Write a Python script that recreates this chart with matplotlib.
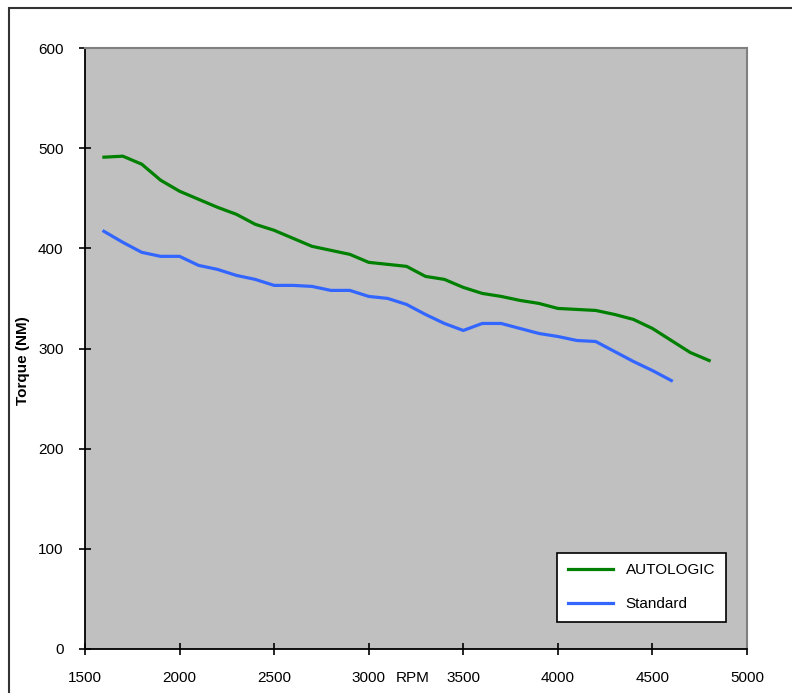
"""Torque curve: AUTOLOGIC vs Standard."""

import matplotlib

matplotlib.use("Agg")
import matplotlib.pyplot as plt
from matplotlib.patches import Rectangle

# Data
rpm_autologic = [1600, 1700, 1800, 1900, 2000, 2100, 2200, 2300, 2400, 2500,
                 2600, 2700, 2800, 2900, 3000, 3100, 3200, 3300, 3400, 3500,
                 3600, 3700, 3800, 3900, 4000, 4100, 4200, 4300, 4400, 4500,
                 4600, 4700, 4800]
torque_autologic = [491, 492, 484, 468, 457, 449, 441, 434, 424, 418,
                    410, 402, 398, 394, 386, 384, 382, 372, 369, 361,
                    355, 352, 348, 345, 340, 339, 338, 334, 329, 320,
                    308, 296, 288]

rpm_standard = [1600, 1700, 1800, 1900, 2000, 2100, 2200, 2300, 2400, 2500,
                2600, 2700, 2800, 2900, 3000, 3100, 3200, 3300, 3400, 3500,
                3600, 3700, 3800, 3900, 4000, 4100, 4200, 4300, 4400, 4500,
                4600]
torque_standard = [417, 406, 396, 392, 392, 383, 379, 373, 369, 363,
                   363, 362, 358, 358, 352, 350, 344, 334, 325, 318,
                   325, 325, 320, 315, 312, 308, 307, 297, 287, 278,
                   268]

x_ticks = [1500, 2000, 2500, 3000, 3500, 4000, 4500, 5000]
y_ticks = [0, 100, 200, 300, 400, 500, 600]

plt.rcParams["font.family"] = ["Liberation Sans", "DejaVu Sans"]

fig = plt.figure(figsize=(7.92, 6.93), dpi=100)
ax = fig.add_axes([85 / 792, 44 / 693, 662 / 792, 601 / 693])

# outer chart frame (runs off the right and bottom edges)
fig.patches.append(Rectangle((9 / 792, -0.1), 1.2, (693 - 8) / 693 + 0.1,
                             transform=fig.transFigure, fill=False,
                             edgecolor="#333333", linewidth=1.5))

ax.set_facecolor("#c0c0c0")
ax.plot(rpm_autologic, torque_autologic, color="#008000", linewidth=2.3,
        label="AUTOLOGIC")
ax.plot(rpm_standard, torque_standard, color="#3366ff", linewidth=2.3,
        label="Standard")

ax.set_xlim(1500, 5000)
ax.set_ylim(0, 600)
ax.set_xticks(x_ticks)
ax.set_yticks(y_ticks)
ax.tick_params(direction="inout", length=9, width=1.2, labelsize=11,
               colors="black")
ax.tick_params(axis="x", pad=11)
ax.tick_params(axis="y", pad=11)

for side in ["left", "bottom"]:
    ax.spines[side].set_color("black")
    ax.spines[side].set_linewidth(1.3)
for side in ["top", "right"]:
    ax.spines[side].set_color("#808080")
    ax.spines[side].set_linewidth(1.5)

ax.set_ylabel("Torque (NM)", fontsize=11, fontweight="bold")
ax.yaxis.set_label_coords(-0.083, 0.48)
fig.text(413 / 792, (693 - 678) / 693, "RPM", fontsize=11,
         ha="center", va="center")

leg = ax.legend(loc="lower right", bbox_to_anchor=(0.968, 0.045),
                borderaxespad=0, fancybox=False, framealpha=1,
                edgecolor="black", fontsize=11, handlelength=3.0,
                labelspacing=1.3, borderpad=0.7)
leg.get_frame().set_linewidth(1.2)

fig.savefig("out.png", dpi=100)
